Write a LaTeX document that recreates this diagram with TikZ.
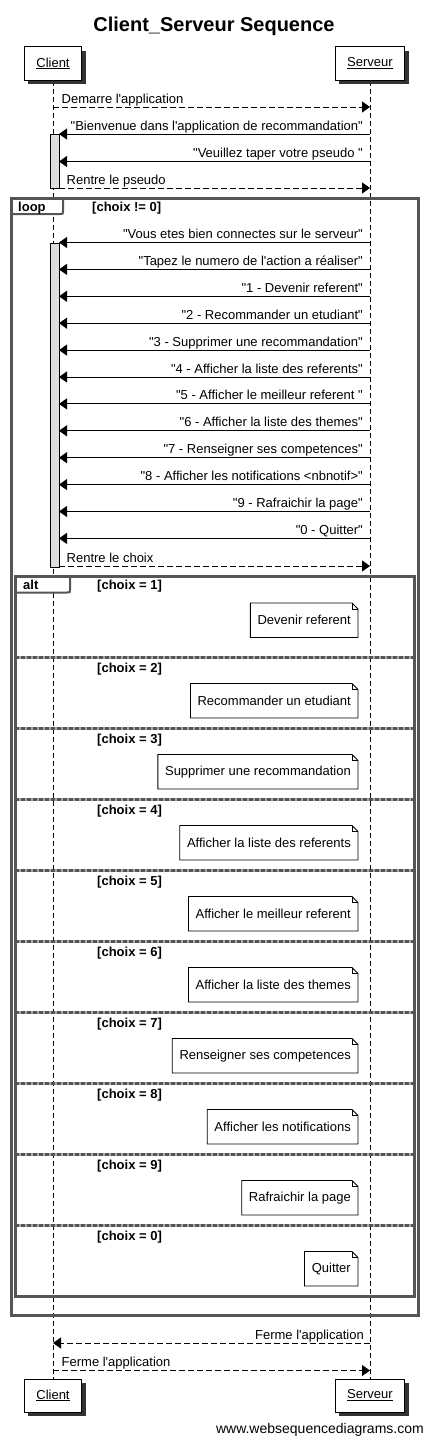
\documentclass[tikz,border=0pt]{standalone}
\usepackage{fontspec}
\newfontfamily\arial{Liberation Sans}
\usetikzlibrary{arrows.meta,shadows}
\definecolor{framegray}{HTML}{555555}
\definecolor{sepgray}{HTML}{A8A8A8}
\definecolor{actgray}{HTML}{DDDDDD}
\pgfdeclarelayer{bg}
\pgfsetlayers{bg,main}
\begin{document}
\begin{tikzpicture}[x=1pt,y=-1pt,
  font=\arial\fontsize{13}{15}\selectfont,
  lifeline/.style={draw=black, line width=1pt, dash pattern=on 5pt off 3pt},
  msg/.style={line width=1pt, -{Triangle[length=8pt,width=11pt]}},
  reply/.style={msg, dash pattern=on 6pt off 3pt},
  lbl/.style={inner sep=0pt},
  part/.style={draw=black, fill=white, line width=1pt, inner xsep=12pt, minimum height=33pt,
    general shadow={fill=black!80, shadow xshift=4pt, shadow yshift=-4pt}},
  actbar/.style={draw=black, fill=actgray, line width=1pt, minimum width=9pt, inner sep=0pt, anchor=north west},
  fragframe/.style={draw=framegray, line width=3pt},
  fragtab/.style={draw=framegray, line width=2pt, fill=white},
  guard/.style={inner sep=0pt, anchor=base west, font=\arial\bfseries\fontsize{13}{15}\selectfont},
  notebox/.style={inner xsep=7pt, inner ysep=0pt, minimum height=34pt, anchor=north east},
  noteline/.style={draw=black, line width=0.8pt},
  sepback/.style={draw=sepgray, line width=3pt},
  sepfront/.style={draw=framegray, line width=3pt, dash pattern=on 4pt off 2pt},
]
\useasboundingbox (0,0) rectangle (428,1437);

% title
\node[font=\arial\bfseries\fontsize{20}{24}\selectfont, anchor=base, inner sep=0pt] (title) at (214,31.5) {Client\_Serveur Sequence};

% participants
\node[part] (ctop) at (53,63.5) {\underline{Client}};
\node[part] (stop) at (370,63.5) {\underline{Serveur}};
\node[part] (cbot) at (53,1395.5) {\underline{Client}};
\node[part] (sbot) at (370,1395.5) {\underline{Serveur}};

\begin{pgfonlayer}{bg}
\draw[lifeline] (ctop.south) -- (cbot.north);
\draw[lifeline] (stop.south) -- (sbot.north);
\end{pgfonlayer}

% activation bars
\node[actbar, minimum height=54pt] (act1) at (50,134) {};
\node[actbar, minimum height=324pt] (act2) at (50,242.5) {};

% first messages
\coordinate (c1) at (53,107); \coordinate (s1) at (370,107);
\draw[reply] (c1) -- (s1);
\node[lbl, anchor=base west] (t1) at (61.5,103) {Demarre l'application};

\coordinate (c2) at (59,134); \coordinate (s2) at (370,134);
\draw[msg] (s2) -- (c2);
\node[lbl, anchor=base east] (t2) at (363,130) {"Bienvenue dans l'application de recommandation"};

\coordinate (c3) at (59,161.5); \coordinate (s3) at (370,161.5);
\draw[msg] (s3) -- (c3);
\node[lbl, anchor=base east] (t3) at (363,157.5) {"Veuillez taper votre pseudo "};

\coordinate (c4) at (59,188); \coordinate (s4) at (370,188);
\draw[reply] (c4) -- (s4);
\node[lbl, anchor=base west] (t4) at (66.5,184) {Rentre le pseudo};

% loop frame
\draw[fragtab] (11,198.5) -- (63,198.5) -- (63,211) .. controls (63,214) .. (60,214) -- (11,214) -- cycle;
\draw[fragframe] (11,198.5) rectangle (418,1315);
\node[guard] (ltab) at (18,211.5) {loop};
\node[guard] (g0) at (92,211.5) {[choix != 0]};

% loop messages
\foreach \i/\txt in {0/{"Vous etes bien connectes sur le serveur"},
  1/{"Tapez le numero de l'action a réaliser"},
  2/{"1 - Devenir referent"},
  3/{"2 - Recommander un etudiant"},
  4/{"3 - Supprimer une recommandation"},
  5/{"4 - Afficher la liste des referents"},
  6/{"5 - Afficher le meilleur referent "},
  7/{"6 - Afficher la liste des themes"},
  8/{"7 - Renseigner ses competences"},
  9/{"8 - Afficher les notifications <nbnotif>"},
  10/{"9 - Rafraichir la page"},
  11/{"0 - Quitter"}} {
  \pgfmathsetmacro\yy{242.5+26.9*\i}
  \coordinate (ls\i) at (370,\yy);
  \coordinate (lc\i) at (59,\yy);
  \draw[msg] (ls\i) -- (lc\i);
  \node[lbl, anchor=base east] (lt\i) at (363,\yy-4) {\txt};
}

\coordinate (c5) at (59,566); \coordinate (s5) at (370,566);
\draw[reply] (c5) -- (s5);
\node[lbl, anchor=base west] (t5) at (66.5,562) {Rentre le choix};

% alt frame
\draw[fragtab] (15,576.5) -- (70,576.5) -- (70,589.5) .. controls (70,592.5) .. (67,592.5) -- (15,592.5) -- cycle;
\draw[fragframe] (15,576.5) rectangle (414,1296);
\node[guard] (atab) at (23,589.5) {alt};
\node[guard] (g1) at (97,589.5) {[choix = 1]};

\foreach \s/\g in {657.5/2,728.5/3,799.5/4,870.5/5,941.5/6,1012.5/7,1083.5/8,1154.5/9,1225.5/0} {
  \draw[sepback] (15,\s) -- (414,\s);
  \draw[sepfront] (15,\s) -- (414,\s);
  \node[guard] (gd\g) at (97,\s+14.5) {[choix = \g]};
}

% notes
\foreach \i/\yy/\txt in {1/603/Devenir referent,
  2/683.5/Recommander un etudiant,
  3/754.5/Supprimer une recommandation,
  4/825.5/Afficher la liste des referents,
  5/896.5/Afficher le meilleur referent,
  6/967.5/Afficher la liste des themes,
  7/1038.5/Renseigner ses competences,
  8/1109.5/Afficher les notifications,
  9/1180.5/Rafraichir la page,
  10/1251.5/Quitter} {
  \node[notebox] (note\i) at (358,\yy) {\txt};
  \draw[noteline] (note\i.north west) -- ([xshift=-6pt]note\i.north east) -- ([yshift=-6pt]note\i.north east) -- (note\i.south east) -- (note\i.south west) -- cycle;
  \draw[noteline] ([xshift=-6pt]note\i.north east) |- ([yshift=-6pt]note\i.north east);
}

% closing messages
\coordinate (c6) at (53,1343); \coordinate (s6) at (370,1343);
\draw[reply] (s6) -- (c6);
\node[lbl, anchor=base east] (t6) at (364,1339) {Ferme l'application};

\coordinate (c7) at (53,1370.5); \coordinate (s7) at (370,1370.5);
\draw[reply] (c7) -- (s7);
\node[lbl, anchor=base west] (t7) at (61.5,1366.5) {Ferme l'application};

% watermark
\node[lbl, anchor=base east, font=\arial\fontsize{14}{16}\selectfont] (wm) at (424,1433) {www.websequencediagrams.com};
\end{tikzpicture}
\end{document}
